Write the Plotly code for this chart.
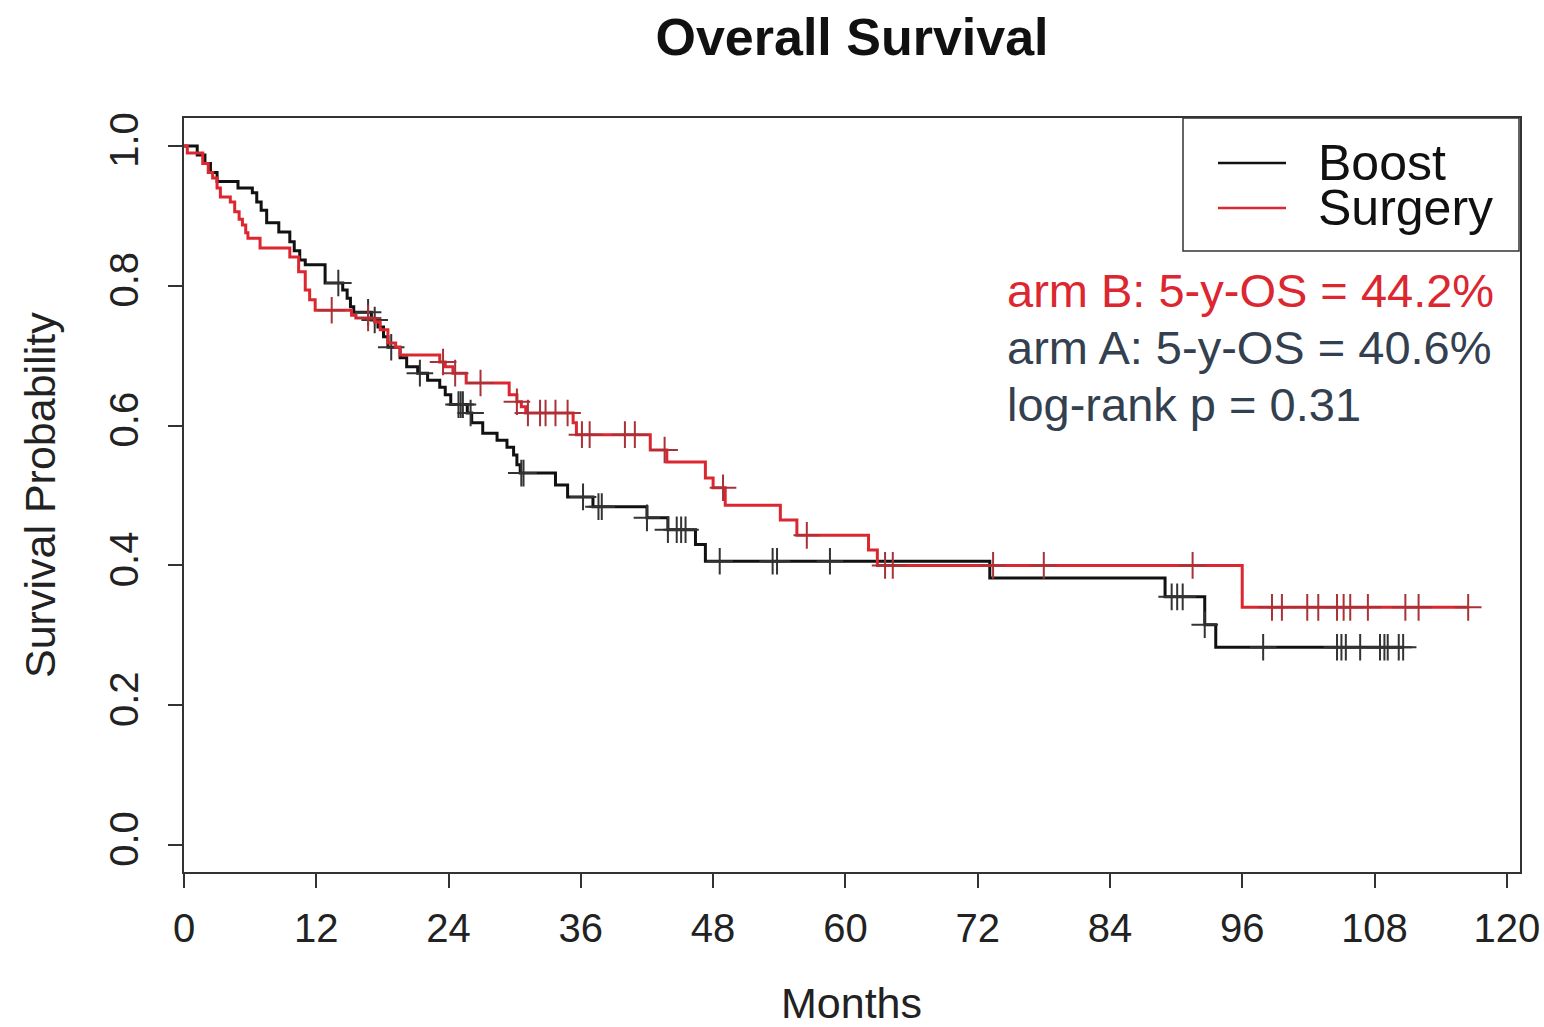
import plotly.graph_objects as go
import numpy as np

# ---------------- data ----------------
boost_t = [0, 1.2, 1.9, 2.4, 3.0, 4.9, 6.2, 6.6, 7.0, 7.5, 8.6, 9.6, 10.0, 10.5, 11.0,
           12.8, 14.4, 14.8, 15.1, 15.4, 17.0, 17.6, 18.1, 18.5, 19.6, 20.2, 21.2, 22.1,
           23.2, 23.7, 24.2, 25.7, 26.1, 27.1, 28.4, 29.3, 29.9, 30.2, 30.5, 33.7, 34.8,
           37.1, 42.0, 43.9, 46.4, 47.3, 73.1, 89.0, 92.6, 93.6]
boost_s = [1.0, 0.987, 0.975, 0.962, 0.949, 0.940, 0.933, 0.920, 0.908, 0.890, 0.877,
           0.863, 0.850, 0.837, 0.830, 0.804, 0.794, 0.782, 0.770, 0.762, 0.751, 0.741,
           0.727, 0.712, 0.697, 0.684, 0.675, 0.665, 0.655, 0.644, 0.630, 0.618, 0.604,
           0.589, 0.579, 0.569, 0.558, 0.544, 0.532, 0.515, 0.498, 0.484, 0.468, 0.451,
           0.430, 0.406, 0.382, 0.355, 0.315, 0.283]
boost_censor = [14.0, 16.7, 17.3, 18.8, 21.4, 24.9, 25.1, 25.3, 26.0, 30.6, 30.8, 36.2,
                37.6, 37.9, 42.0, 43.9, 44.7, 45.1, 45.5, 48.6, 53.4, 53.8, 58.6, 89.6,
                90.1, 90.6, 92.6, 97.9, 104.6, 105.0, 105.4, 106.7, 108.5, 108.9, 109.2,
                110.2, 110.6]

surgery_t = [0, 0.3, 1.7, 2.2, 2.6, 3.0, 3.3, 4.2, 4.6, 5.0, 5.3, 5.6, 5.8, 6.9, 9.6,
             10.4, 11.0, 11.4, 11.9, 15.2, 15.6, 17.3, 17.8, 18.5, 19.2, 19.6, 23.2, 23.7,
             24.4, 25.6, 29.5, 30.2, 30.6, 31.0, 35.3, 35.6, 42.3, 43.8, 47.3, 48.0, 49.1,
             54.1, 55.6, 62.1, 62.9, 96.0]
surgery_s = [1.0, 0.99, 0.975, 0.962, 0.954, 0.94, 0.927, 0.92, 0.906, 0.895, 0.887,
             0.876, 0.868, 0.854, 0.841, 0.82, 0.794, 0.78, 0.765, 0.758, 0.754, 0.748,
             0.737, 0.718, 0.712, 0.701, 0.691, 0.684, 0.675, 0.661, 0.644, 0.634, 0.627,
             0.618, 0.604, 0.587, 0.565, 0.548, 0.525, 0.511, 0.486, 0.465, 0.443, 0.422,
             0.400, 0.340]
surgery_censor = [13.4, 16.7, 23.5, 24.6, 26.9, 30.2, 31.2, 32.3, 32.8, 33.7, 34.8, 36.1,
                  36.8, 40.0, 40.9, 43.6, 48.9, 56.5, 63.6, 64.3, 73.4, 78.0, 91.5, 98.7,
                  99.6, 101.9, 102.9, 104.6, 105.2, 105.8, 107.4, 110.8, 112.0, 116.5]

x_ticks = [0, 12, 24, 36, 48, 60, 72, 84, 96, 108, 120]
y_ticks = [0.0, 0.2, 0.4, 0.6, 0.8, 1.0]
y_tick_labels = ["0.0", "0.2", "0.4", "0.6", "0.8", "1.0"]

series_names = ["Boost", "Surgery"]
annot_lines = ["arm B: 5-y-OS = 44.2%", "arm A: 5-y-OS = 40.6%", "log-rank p = 0.31"]

# ---------------- styling ----------------
FONT = "Liberation Sans, Arial, sans-serif"
BLACK = "#111111"
RED = "#dc2630"
W, H = 1544, 1027
L, R, T, B = 184, 1520, 118, 872   # plot-area pixel box


def px_x(px):
    return (px - L) / (R - L)


def px_y(py):
    return (B - py) / (B - T)


def step_value(times, surv, t):
    idx = np.searchsorted(np.array(times), t, side="right") - 1
    return surv[idx]


fig = go.Figure()

for name, t, s, cens, col, mcol in [
    ("Boost", boost_t, boost_s, boost_censor, BLACK, "#333333"),
    ("Surgery", surgery_t, surgery_s, surgery_censor, RED, "#a83238"),
]:
    end_t = max(cens[-1], t[-1])
    xs = list(t) + [end_t]
    ys = list(s) + [s[-1]]
    fig.add_trace(go.Scatter(x=xs, y=ys, mode="lines", line=dict(color=col, width=3, shape="hv"),
                             name=name, showlegend=False, hoverinfo="skip"))
    cy = [step_value(t, s, c) for c in cens]
    fig.add_trace(go.Scatter(x=cens, y=cy, mode="markers",
                             marker=dict(symbol="cross-thin", size=19,
                                         line=dict(color=mcol, width=2)),
                             showlegend=False, hoverinfo="skip"))

axis_common = dict(showline=True, linecolor="#333333", linewidth=1.5, mirror=True,
                   showgrid=False, zeroline=False, ticks="outside", ticklen=14,
                   tickwidth=1.5, tickcolor="#333333", automargin=False,
                   ticklabeloverflow="allow",
                   tickfont=dict(family=FONT, size=40, color="#222222"))

fig.update_layout(
    width=W, height=H,
    margin=dict(l=L, r=W - R, t=T, b=H - B, autoexpand=False),
    paper_bgcolor="white", plot_bgcolor="white",
    title=dict(text="<b>Overall Survival</b>", x=px_x(852), xref="paper",
               y=1 - 37 / H, yref="container", xanchor="center", yanchor="middle",
               font=dict(family=FONT, size=52, color="#111111")),
    xaxis=dict(range=[0, 121.2], tickmode="array", tickvals=x_ticks,
               ticktext=[str(v) for v in x_ticks], ticklabelstandoff=6, **axis_common),
    yaxis=dict(range=[-0.0386, 1.04], tickmode="array", tickvals=y_ticks,
               ticktext=y_tick_labels, tickangle=-90, ticklabelstandoff=14, **axis_common),
    showlegend=False,
)

# axis titles
fig.add_annotation(text="Months", x=px_x(851), y=px_y(1003), xref="paper", yref="paper",
                   showarrow=False, xanchor="center", yanchor="middle",
                   font=dict(family=FONT, size=43, color="#222222"))
fig.add_annotation(text="Survival Probability", x=px_x(40), y=px_y(495), xref="paper",
                   yref="paper", showarrow=False, textangle=-90, xanchor="center",
                   yanchor="middle", font=dict(family=FONT, size=43, color="#222222"))

# legend box (drawn as in R's legend())
fig.add_shape(type="rect", xref="paper", yref="paper", x0=px_x(1183), x1=px_x(1519),
              y0=px_y(251), y1=px_y(118), line=dict(color="#333333", width=1.5),
              fillcolor="white", layer="above")
for name, col, py in [(series_names[0], BLACK, 163), (series_names[1], RED, 208)]:
    fig.add_shape(type="line", xref="paper", yref="paper", x0=px_x(1218), x1=px_x(1286),
                  y0=px_y(py), y1=px_y(py), line=dict(color=col, width=2.5), layer="above")
    fig.add_annotation(text=name, x=px_x(1316), y=px_y(py), xref="paper", yref="paper",
                       showarrow=False, xanchor="left", yanchor="middle",
                       font=dict(family=FONT, size=50, color="#111111"))

# statistics text
for txt, col, py in [(annot_lines[0], RED, 290), (annot_lines[1], "#33404f", 347),
                     (annot_lines[2], "#33404f", 404)]:
    fig.add_annotation(text=txt, x=px_x(1005), y=px_y(py), xref="paper", yref="paper",
                       showarrow=False, xanchor="left", yanchor="middle",
                       font=dict(family=FONT, size=47, color=col))

fig.write_html("out.html")
